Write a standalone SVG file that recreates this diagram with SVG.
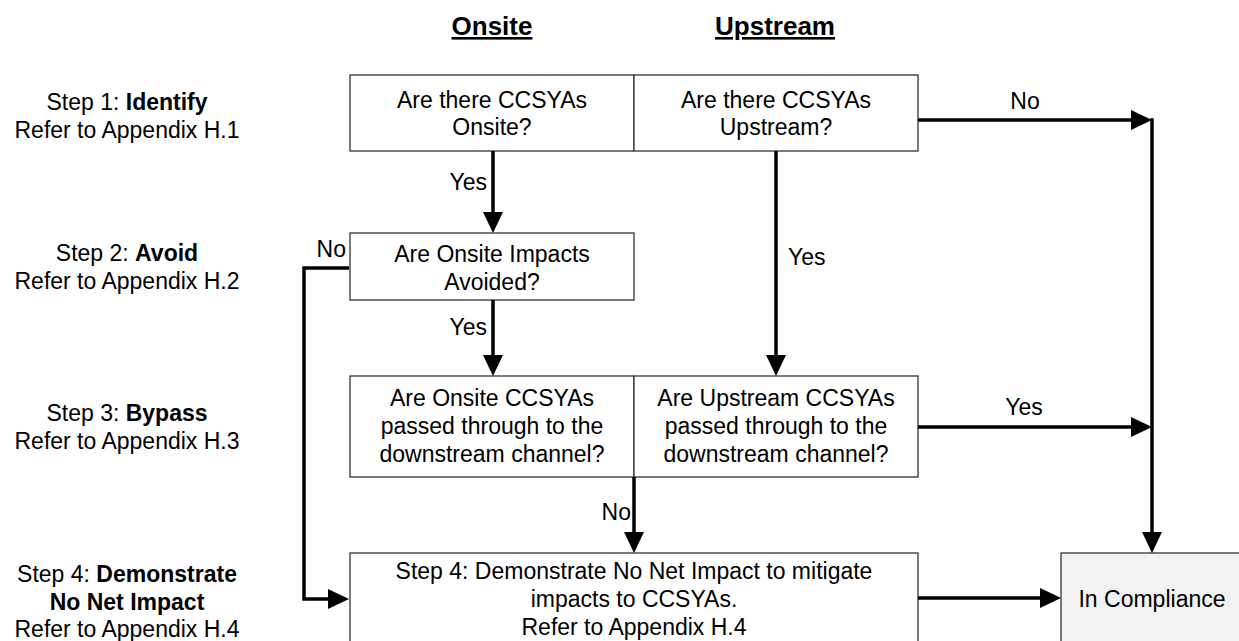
<svg xmlns="http://www.w3.org/2000/svg" width="1239" height="641" viewBox="0 0 1239 641">
<style>
text{font-family:"Liberation Sans",Arial,sans-serif;font-size:23px;fill:#000}
.c{text-anchor:middle}
.e{text-anchor:end}
.b{font-weight:bold}
.h{font-weight:bold;font-size:26px;text-decoration:underline}
.box{fill:#fff;stroke:#333;stroke-width:1.3}
.gray{fill:#f2f2f2;stroke:#333;stroke-width:1.3}
.ln{fill:none;stroke:#000;stroke-width:3.5;marker-end:url(#ah)}
.pl{fill:none;stroke:#000;stroke-width:3.5}
</style>
<defs>
<marker id="ah" markerUnits="userSpaceOnUse" markerWidth="22" markerHeight="22" refX="16" refY="10" orient="auto">
<path d="M0,0 L21,10 L0,20 Z" fill="#000"/>
</marker>
</defs>
<rect width="1239" height="641" fill="#fff"/>
<g id="headers">
<text class="h c" x="492" y="35">Onsite</text>
<text class="h c" x="775" y="35">Upstream</text>
</g>
<g id="step-labels">
<text class="c" x="127" y="110">Step 1: <tspan class="b">Identify</tspan></text>
<text class="c" x="127" y="138">Refer to Appendix H.1</text>
<text class="c" x="127" y="261">Step 2: <tspan class="b">Avoid</tspan></text>
<text class="c" x="127" y="289">Refer to Appendix H.2</text>
<text class="c" x="127" y="421">Step 3: <tspan class="b">Bypass</tspan></text>
<text class="c" x="127" y="449">Refer to Appendix H.3</text>
<text class="c" x="127" y="582">Step 4: <tspan class="b">Demonstrate</tspan></text>
<text class="c b" x="127" y="610">No Net Impact</text>
<text class="c" x="127" y="637">Refer to Appendix H.4</text>
</g>
<g id="q-onsite">
<rect class="box" x="350" y="75" width="284" height="76"/>
<text class="c" x="492" y="108">Are there CCSYAs</text>
<text class="c" x="492" y="135">Onsite?</text>
</g>
<g id="q-upstream">
<rect class="box" x="634" y="75" width="284" height="76"/>
<text class="c" x="776" y="108">Are there CCSYAs</text>
<text class="c" x="776" y="135">Upstream?</text>
</g>
<g id="q-avoid">
<rect class="box" x="350" y="233" width="284" height="67"/>
<text class="c" x="492" y="262">Are Onsite Impacts</text>
<text class="c" x="492" y="290">Avoided?</text>
</g>
<g id="q-bypass-onsite">
<rect class="box" x="350" y="376" width="284" height="101"/>
<text class="c" x="492" y="406">Are Onsite CCSYAs</text>
<text class="c" x="492" y="434">passed through to the</text>
<text class="c" x="492" y="462">downstream channel?</text>
</g>
<g id="q-bypass-upstream">
<rect class="box" x="634" y="376" width="284" height="101"/>
<text class="c" x="776" y="406">Are Upstream CCSYAs</text>
<text class="c" x="776" y="434">passed through to the</text>
<text class="c" x="776" y="462">downstream channel?</text>
</g>
<g id="step4">
<rect class="box" x="350" y="553" width="568" height="110"/>
<text class="c" x="634" y="579">Step 4: Demonstrate No Net Impact to mitigate</text>
<text class="c" x="634" y="607">impacts to CCSYAs.</text>
<text class="c" x="634" y="635">Refer to Appendix H.4</text>
</g>
<g id="in-compliance">
<rect class="gray" x="1061" y="553" width="190" height="110"/>
<text class="c" x="1152" y="607">In Compliance</text>
</g>
<g id="connectors">
<path class="ln" d="M918,120 H1147"/>
<path class="ln" d="M918,427 H1147"/>
<path class="pl" d="M1152,118.25 V540"/>
<path class="ln" d="M1152,540 V548"/>
<path class="ln" d="M493,151 V228"/>
<path class="ln" d="M349,268 H304 V599 H344"/>
<path class="ln" d="M493,300 V371"/>
<path class="ln" d="M776,151 V371"/>
<path class="ln" d="M634,477 V548"/>
<path class="ln" d="M918,598 H1056"/>
</g>
<g id="connector-labels">
<text x="1025" y="109" class="c">No</text>
<text x="487" y="190" class="e">Yes</text>
<text x="346" y="257" class="e">No</text>
<text x="788" y="265">Yes</text>
<text x="487" y="335" class="e">Yes</text>
<text x="631" y="520" class="e">No</text>
<text x="1024" y="415" class="c">Yes</text>
</g>
</svg>
